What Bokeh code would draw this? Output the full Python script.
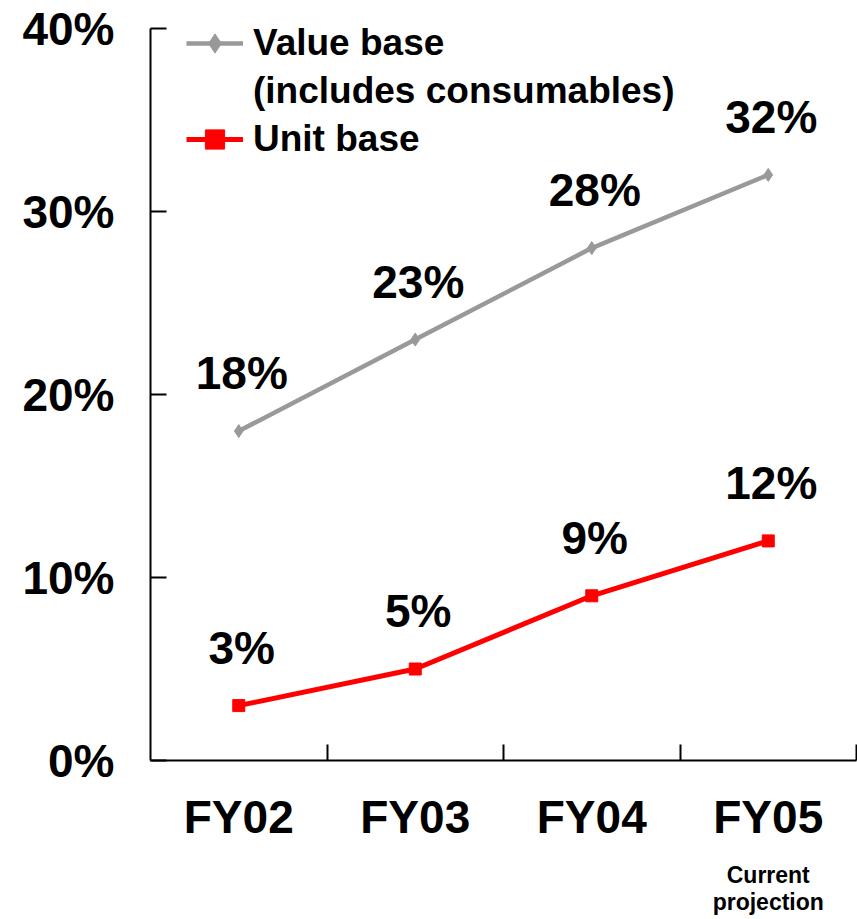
from bokeh.plotting import figure
from bokeh.models import (Range1d, FixedTicker, PrintfTickFormatter, Legend, LegendItem,
                          ColumnDataSource, LinearAxis)
from bokeh.core.properties import value
from bokeh.embed import file_html
from bokeh.resources import INLINE

categories = ["FY02", "FY03", "FY04", "FY05"]
value_base = [18, 23, 28, 32]
unit_base = [3, 5, 9, 12]
y_ticks = [0, 10, 20, 30, 40]
series_names = ["Value base", "(includes consumables)", "Unit base"]
sub_labels = ["", "", "", "Current\nprojection"]

FONT = "Liberation Sans"
GRAY = "#999999"
RED = "#FF0000"

xs = [i + 0.5 for i in range(len(categories))]

p = figure(frame_width=706, frame_height=732, min_border_left=150, min_border_right=1,
           min_border_top=28, min_border_bottom=140,
           x_range=Range1d(0, len(categories)), y_range=Range1d(0, 40),
           output_backend="svg", toolbar_location=None)
p.outline_line_color = None
p.xgrid.grid_line_color = None
p.ygrid.grid_line_color = None
p.background_fill_color = "white"
p.border_fill_color = "white"

# y axis
ya = p.yaxis[0]
ya.ticker = FixedTicker(ticks=y_ticks, minor_ticks=[])
ya.formatter = PrintfTickFormatter(format="%d%%")
ya.major_tick_in = 16
ya.major_tick_out = 0
ya.minor_tick_line_color = None
ya.axis_line_width = 2
ya.axis_line_color = "black"
ya.major_tick_line_width = 2
ya.major_tick_line_color = "black"
ya.major_label_text_color = "black"
ya.major_label_text_font = FONT
ya.major_label_text_font_style = "bold"
ya.major_label_text_font_size = "46px"
ya.major_label_standoff = 36

# x axis
xa = p.xaxis[0]
xa.ticker = FixedTicker(ticks=xs, minor_ticks=[i + 1 for i in range(len(categories))])
xa.major_label_overrides = {x: c for x, c in zip(xs, categories)}
xa.major_tick_line_color = None
xa.major_tick_in = 0
xa.major_tick_out = 0
xa.minor_tick_in = 16
xa.minor_tick_out = 0
xa.minor_tick_line_width = 2
xa.minor_tick_line_color = "black"
xa.axis_line_width = 2
xa.axis_line_color = "black"
xa.major_label_text_color = "black"
xa.major_label_text_font = FONT
xa.major_label_text_font_style = "bold"
xa.major_label_text_font_size = "46px"
xa.major_label_standoff = 30

# second row of category notes
xa2 = LinearAxis(ticker=FixedTicker(ticks=xs, minor_ticks=[]),
                 major_label_overrides={x: s for x, s in zip(xs, sub_labels)})
xa2.axis_line_color = None
xa2.major_tick_line_color = None
xa2.minor_tick_line_color = None
xa2.major_label_text_color = "black"
xa2.major_label_text_font = FONT
xa2.major_label_text_font_style = "bold"
xa2.major_label_text_font_size = "23px"
xa2.major_label_standoff = 10
xa2.major_label_text_line_height = 1.05
p.add_layout(xa2, "below")

src_v = ColumnDataSource(dict(x=xs, y=value_base, t=[f"{v}%" for v in value_base]))
src_u = ColumnDataSource(dict(x=xs, y=unit_base, t=[f"{v}%" for v in unit_base]))

gl = p.line("x", "y", source=src_v, line_color=GRAY, line_width=4.5)
gs = p.scatter("x", "y", source=src_v, marker="diamond", size=13, fill_color=GRAY, line_color=GRAY)
rl = p.line("x", "y", source=src_u, line_color=RED, line_width=5)
rs = p.scatter("x", "y", source=src_u, marker="square", size=12, fill_color=RED, line_color=RED)
dummy = p.line(x=[], y=[], line_alpha=0)

for src in (src_v, src_u):
    p.text("x", "y", text="t", source=src, text_font=value(FONT), text_font_style="bold",
           text_font_size="46px", text_align="center", text_baseline="middle",
           x_offset=3, y_offset=-58, text_color="black")

legend = Legend(items=[LegendItem(label=series_names[0], renderers=[gl, gs]),
                       LegendItem(label=series_names[1], renderers=[dummy]),
                       LegendItem(label=series_names[2], renderers=[rl, rs])],
                location=(36, 597), padding=0, margin=0, spacing=0,
                label_height=48, glyph_height=48, glyph_width=57, label_standoff=10,
                label_text_font=FONT, label_text_font_style="bold", label_text_font_size="37px",
                label_text_color="black",
                border_line_color=None, background_fill_alpha=0)
p.add_layout(legend)

open("out.html", "w").write(file_html(p, INLINE))
